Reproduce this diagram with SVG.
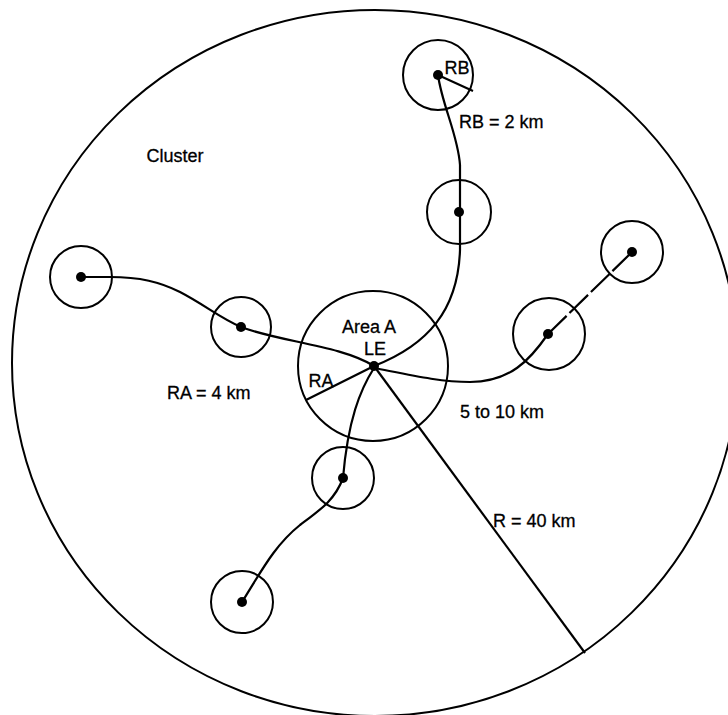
<svg xmlns="http://www.w3.org/2000/svg" width="728" height="715" viewBox="0 0 728 715">
<style>
.ring{fill:none;stroke:#000;stroke-width:2}
.dot{fill:#000}
.con{fill:none;stroke:#000;stroke-width:2.2}
.brk{fill:none;stroke:#000;stroke-width:2.2;stroke-dasharray:26 4}
.lbl{font-family:"Liberation Sans",Arial,sans-serif;font-size:18px;fill:#000;stroke:#000;stroke-width:0.3}
</style>
<rect width="728" height="715" fill="#fff"/>
<g id="cluster">
<ellipse class="ring" cx="375" cy="363" rx="363" ry="353"/>
<text class="lbl" x="175" y="162" text-anchor="middle">Cluster</text>
</g>
<g id="connectors">
<path class="con" d="M81,277 L110,277 C140,277 160,282 180,292 C205,305 220,318 241,327 C280,342 340,345 374,366"/>
<path class="con" d="M438,75 C442,105 458,135 460,165 L460,250 C458,310 428,345 374,366"/>
<path class="con" d="M374,368 C410,375 440,382 470,382 C510,382 530,360 548,334"/>
<path class="brk" d="M548,334 L632,252"/>
<path class="con" d="M374,368 C360,390 348,420 343,478 C335,500 320,510 300,525 C275,545 262,570 242,602"/>
<path class="con" d="M374,366 L585,653"/>
</g>
<g id="areaA">
<circle class="ring" cx="373" cy="366" r="75"/>
<line class="con" x1="374" y1="366" x2="306" y2="400"/>
<circle class="dot" cx="374" cy="366" r="5"/>
<text class="lbl" x="369" y="333" text-anchor="middle">Area A</text>
<text class="lbl" x="375" y="355" text-anchor="middle">LE</text>
<text class="lbl" x="321" y="387" text-anchor="middle">RA</text>
</g>
<g id="nodeRB">
<circle class="ring" cx="438" cy="75" r="35"/>
<line class="con" x1="438" y1="75" x2="473" y2="91"/>
<circle class="dot" cx="438" cy="75" r="5"/>
<text class="lbl" x="457" y="74" text-anchor="middle">RB</text>
</g>
<g id="nodeN"><circle class="ring" cx="459" cy="212" r="32"/><circle class="dot" cx="459" cy="212" r="5"/></g>
<g id="nodeW1"><circle class="ring" cx="81" cy="277" r="31"/><circle class="dot" cx="81" cy="277" r="5"/></g>
<g id="nodeW2"><circle class="ring" cx="241" cy="327" r="30"/><circle class="dot" cx="241" cy="327" r="5"/></g>
<g id="nodeE1"><circle class="ring" cx="549" cy="334" r="36"/><circle class="dot" cx="548" cy="334" r="5"/></g>
<g id="nodeE2"><circle class="ring" cx="632" cy="252" r="31"/><circle class="dot" cx="632" cy="252" r="5"/></g>
<g id="nodeS1"><circle class="ring" cx="343" cy="478" r="31"/><circle class="dot" cx="343" cy="478" r="5"/></g>
<g id="nodeS2"><circle class="ring" cx="242" cy="602" r="31"/><circle class="dot" cx="242" cy="602" r="5"/></g>
<g id="labels">
<text class="lbl" x="459" y="128">RB = 2 km</text>
<text class="lbl" x="167" y="399">RA = 4 km</text>
<text class="lbl" x="460" y="418">5 to 10 km</text>
<text class="lbl" x="493" y="527">R = 40 km</text>
</g>
</svg>
